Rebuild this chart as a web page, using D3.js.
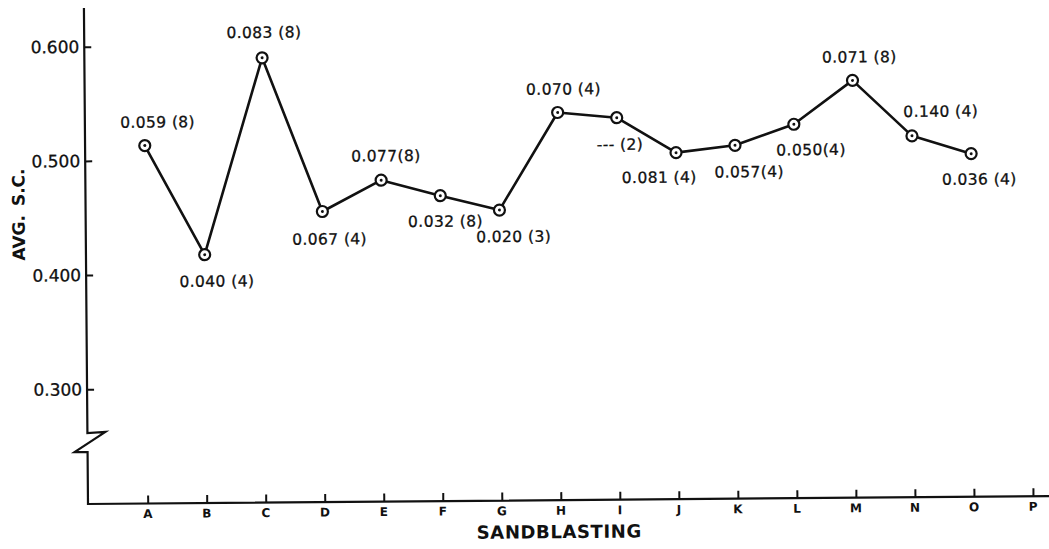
<!DOCTYPE html>
<html>
<head>
<meta charset="utf-8">
<script src="https://cdn.jsdelivr.net/npm/d3@7/dist/d3.min.js"></script>
<style>
  html, body { margin: 0; padding: 0; background: #fff; }
  svg { display: block; }
  text { font-family: "DejaVu Sans", sans-serif; fill: #111; }
</style>
</head>
<body>
<svg id="chart" width="1049" height="549"></svg>
<script>
// Sandblasting condition codes on the horizontal axis
const categories = ["A","B","C","D","E","F","G","H","I","J","K","L","M","N","O","P"];
// Average S.C. for each tested condition (P has no result)
const avgSC = [0.513, 0.417, 0.589, 0.454, 0.481, 0.467, 0.454, 0.539, 0.534, 0.503, 0.509, 0.527, 0.565, 0.516, 0.500];
// Standard deviation and number of tests written beside each point
const stdDevText = ["0.059", "0.040", "0.083", "0.067", "0.077", "0.032", "0.020", "0.070", "---", "0.081", "0.057", "0.050", "0.071", "0.140", "0.036"];
const testCounts = [8, 4, 8, 4, 8, 8, 3, 4, 2, 4, 4, 4, 8, 4, 4];
const separators = [" ", " ", " ", " ", "", " ", " ", " ", " ", " ", "", "", " ", " ", " "];
// Y axis tick values
const yTicks = [0.300, 0.400, 0.500, 0.600];

// Label placement relative to each point: [dx, dy of baseline]
const labelOffsets = [
  [13, -18], [12, 32], [2, -20], [7, 33], [5, -19], [5, 31], [14, 32], [6, -18],
  [3, 32], [-17, 30], [14, 32], [17, 31], [7, -18], [29, -19], [8, 31]
];

const svg = d3.select("#chart");
const ox = 88, oy = 504;
// the whole drawing sits slightly tilted
const g = svg.append("g").attr("transform", `rotate(-0.47, ${ox}, ${oy})`);

const x = d3.scalePoint().domain(categories).range([147.7, 1033]);
const y = d3.scaleLinear().domain([0.3, 0.6]).range([389.3, 46.7]);

const ink = "#111";

// Y axis with a break symbol near the bottom, then the X axis
const axisPath = d3.path();
axisPath.moveTo(ox, 8);
axisPath.lineTo(ox, 433);
axisPath.lineTo(106, 432);
axisPath.lineTo(75, 452);
axisPath.lineTo(ox, 452);
axisPath.lineTo(ox, oy);
axisPath.lineTo(1052, oy);
g.append("path").attr("d", axisPath.toString())
  .attr("fill", "none").attr("stroke", ink).attr("stroke-width", 2.2)
  .attr("stroke-linejoin", "miter");

// Y ticks pointing into the plot
const yAxis = d3.axisRight(y).tickValues(yTicks).tickSize(7).tickFormat("");
const yg = g.append("g").attr("transform", `translate(${ox},0)`).call(yAxis);
yg.select(".domain").remove();
yg.selectAll(".tick line").attr("stroke", ink).attr("stroke-width", 2);
g.selectAll(".ylab").data(yTicks).join("text")
  .attr("class", "ylab")
  .attr("x", 83).attr("y", d => y(d))
  .attr("dy", "0.36em")
  .attr("text-anchor", "end")
  .style("font-size", "17px")
  .style("stroke", ink).style("stroke-width", "0.3px")
  .text(d => d.toFixed(3));

// X ticks pointing up from the axis
const xAxis = d3.axisTop(x).tickSize(8).tickFormat("");
const xg = g.append("g").attr("transform", `translate(0,${oy})`).call(xAxis);
xg.select(".domain").remove();
xg.selectAll(".tick line").attr("stroke", ink).attr("stroke-width", 2);
g.selectAll(".xlab").data(categories).join("text")
  .attr("class", "xlab")
  .attr("x", d => x(d)).attr("y", 518.5)
  .attr("text-anchor", "middle")
  .style("font-size", "12px").style("font-weight", "bold")
  .text(d => d);

// Axis titles
g.append("text")
  .attr("transform", "translate(27,214) rotate(-90)")
  .attr("text-anchor", "middle")
  .style("font-size", "17px").style("font-weight", "bold")
  .style("word-spacing", "3px")
  .text("AVG. S.C.");
g.append("text")
  .attr("x", 559).attr("y", 542)
  .attr("text-anchor", "middle")
  .style("font-size", "18px").style("font-weight", "bold")
  .style("letter-spacing", "0.6px")
  .text("SANDBLASTING");

// Data line
const pts = avgSC.map((v, i) => ({ cat: categories[i], v, i }));
const line = d3.line().x(d => x(d.cat)).y(d => y(d.v));
g.append("path").datum(pts).attr("d", line)
  .attr("fill", "none").attr("stroke", ink).attr("stroke-width", 2.6)
  .attr("stroke-linejoin", "round");

// Point markers: open circle with a centre dot
g.selectAll(".mk").data(pts).join("circle")
  .attr("class", "mk")
  .attr("cx", d => x(d.cat)).attr("cy", d => y(d.v))
  .attr("r", 5.5)
  .attr("fill", "#fff").attr("stroke", ink).attr("stroke-width", 2.2);
g.selectAll(".dot").data(pts).join("circle")
  .attr("class", "dot")
  .attr("cx", d => x(d.cat)).attr("cy", d => y(d.v))
  .attr("r", 1.5).attr("fill", ink);

// Std. deviation (number of tests) annotations
g.selectAll(".ann").data(pts).join("text")
  .attr("class", "ann")
  .attr("x", d => x(d.cat) + labelOffsets[d.i][0])
  .attr("y", d => y(d.v) + labelOffsets[d.i][1])
  .attr("text-anchor", "middle")
  .style("font-size", "15.5px")
  .style("letter-spacing", "0.4px")
  .style("stroke", ink).style("stroke-width", "0.3px")
  .text(d => `${stdDevText[d.i]}${separators[d.i]}(${testCounts[d.i]})`);
</script>
</body>
</html>
